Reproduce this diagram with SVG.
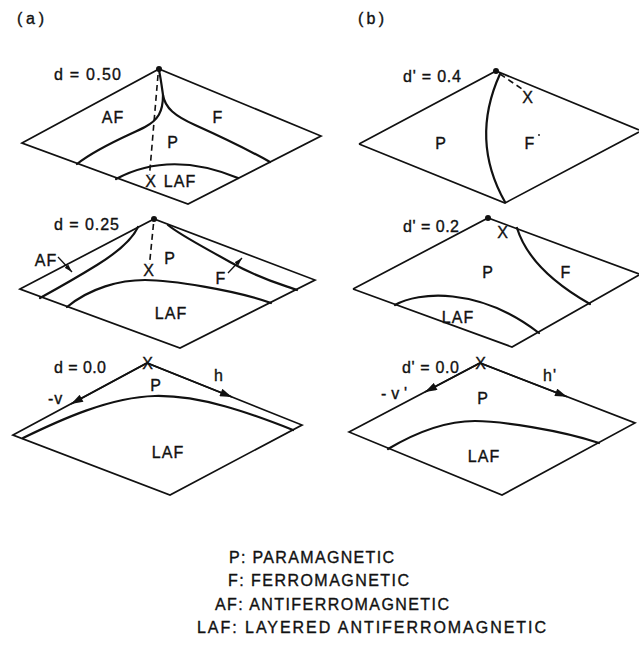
<svg xmlns="http://www.w3.org/2000/svg" width="639" height="647" viewBox="0 0 639 647">
<style>
text{font-family:"Liberation Sans",Arial,sans-serif;font-size:16px;fill:#111;stroke:#111;stroke-width:0.35;letter-spacing:1px}
.m{text-anchor:middle}
.edge{fill:none;stroke:#111;stroke-width:1.7;stroke-linejoin:miter}
.bd{fill:none;stroke:#111;stroke-width:2.2;stroke-linecap:round}
.dash{fill:none;stroke:#111;stroke-width:1.6;stroke-dasharray:6,4}
.thin{fill:none;stroke:#111;stroke-width:1.3}
</style>
<defs>
<marker id="ah" viewBox="0 0 12 8" refX="12" refY="4" markerWidth="13" markerHeight="8" markerUnits="userSpaceOnUse" orient="auto">
<path d="M0,0 L12,4 L0,8 z" fill="#111"/>
</marker>
<marker id="ahs" viewBox="0 0 10 6" refX="10" refY="3" markerWidth="8" markerHeight="5" markerUnits="userSpaceOnUse" orient="auto">
<path d="M0,0 L10,3 L0,6 z" fill="#111"/>
</marker>
</defs>
<rect width="639" height="647" fill="#fff"/>

<g id="titles">
<text x="17" y="24" textLength="28">(a)</text>
<text x="358" y="24" textLength="27">(b)</text>
</g>

<g id="a-top">
<path class="edge" d="M22,143 L159,69 L321,136 L188,204 Z"/>
<path class="bd" d="M159,70 C161,80 162,88 163,95 C163,112 158,120 145,127 S100,146 77,164"/>
<path class="bd" d="M163,95 C165,108 175,116 195,125 S245,148 270,162"/>
<path class="bd" d="M116,179 Q170,150 238,178"/>
<circle cx="159" cy="69" r="3" fill="#111"/>
<text x="54" y="80" textLength="68">d = 0.50</text>
<text class="m" x="113" y="123">AF</text>
<text class="m" x="218" y="123">F</text>
<text class="m" x="173" y="148">P</text>
<text class="m" x="151" y="187">X</text>
<text class="m" x="180" y="187">LAF</text>
</g>

<g id="a-mid">
<path class="edge" d="M20,289 L154,219 L315,280 L180,348 Z"/>
<path class="bd" d="M138,227 C132,240 118,252 97,265 S60,287 40,298"/>
<path class="bd" d="M168,225 C180,235 200,245 230,262 S280,284 297,290"/>
<path class="bd" d="M67,307 C90,288 120,280 145,280 S235,290 271,303"/>
<circle cx="154" cy="219" r="3" fill="#111"/>
<text x="54" y="230" textLength="66">d = 0.25</text>
<text class="m" x="46" y="266">AF</text>
<text class="m" x="149" y="276">X</text>
<text class="m" x="170" y="264">P</text>
<text class="m" x="221" y="284">F</text>
<text class="m" x="171" y="319">LAF</text>
</g>

<g id="a-bot">
<path class="edge" d="M13,435 L147,363 L302,425 L170,495 Z"/>
<path class="bd" d="M23,438 C60,420 110,397 155,396 S250,413 293,430"/>
<text class="m" x="148" y="369">X</text>
<text x="54" y="373" textLength="53">d = 0.0</text>
<text class="m" x="219" y="381">h</text>
<text class="m" x="156" y="391">P</text>
<text x="48" y="404">-v</text>
<text class="m" x="168" y="458">LAF</text>
</g>

<g id="b-top">
<path class="edge" d="M359,144 L496,71 L639,130 M639,132 L505,203 L359,144"/>
<path class="bd" d="M500,74 Q470,140 505,202"/>
<circle cx="496" cy="71" r="3" fill="#111"/>
<text x="403" y="82" textLength="59">d' = 0.4</text>
<text class="m" x="528" y="103">X</text>
<text class="m" x="441" y="149">P</text>
<text class="m" x="530" y="149">F</text>
<circle cx="539" cy="135" r="0.9" fill="#111"/>
</g>

<g id="b-mid">
<path class="edge" d="M353,289 L488,218 L639,274 M639,275 L512,347 L353,289"/>
<path class="bd" d="M517,228 Q530,270 590,304"/>
<path class="bd" d="M395,305 C418,292 478,286 539,333"/>
<circle cx="488" cy="218" r="3" fill="#111"/>
<text x="403" y="232" textLength="57">d' = 0.2</text>
<text class="m" x="503" y="238">X</text>
<text class="m" x="488" y="278">P</text>
<text class="m" x="566" y="278">F</text>
<text class="m" x="458" y="323">LAF</text>
</g>

<g id="b-bot">
<path class="edge" d="M349,432 L480,363 L635,423 L502,495 Z"/>
<path class="bd" d="M388,449 C420,430 450,421 475,421 S560,430 599,443"/>
<text class="m" x="481" y="369">X</text>
<text x="402" y="373" textLength="58">d' = 0.0</text>
<text x="543" y="381">h'</text>
<text x="381" y="399" textLength="27">-v'</text>
<text class="m" x="483" y="404">P</text>
<text class="m" x="484" y="462">LAF</text>
</g>

<g id="connectors">
<line class="dash" x1="158" y1="75" x2="149.5" y2="175"/>
<line class="dash" x1="153.5" y1="224" x2="149.5" y2="264"/>
<line class="dash" x1="500" y1="74" x2="522" y2="89"/>
<line class="thin" x1="58" y1="257" x2="72" y2="272" marker-end="url(#ahs)"/>
<line class="thin" x1="228" y1="273" x2="242" y2="258" marker-end="url(#ahs)"/>
<line class="edge" x1="147" y1="363" x2="71" y2="404" marker-end="url(#ah)"/>
<line class="edge" x1="147" y1="363" x2="232" y2="397" marker-end="url(#ah)"/>
<line class="edge" x1="480" y1="363" x2="425" y2="392" marker-end="url(#ah)"/>
<line class="edge" x1="480" y1="363" x2="567" y2="396.7" marker-end="url(#ah)"/>
</g>

<g id="legend">
<text x="229" y="563" textLength="166">P: PARAMAGNETIC</text>
<text x="228" y="586" textLength="182">F: FERROMAGNETIC</text>
<text x="215" y="610" textLength="235">AF: ANTIFERROMAGNETIC</text>
<text x="197" y="633" textLength="350">LAF: LAYERED ANTIFERROMAGNETIC</text>
</g>
</svg>
